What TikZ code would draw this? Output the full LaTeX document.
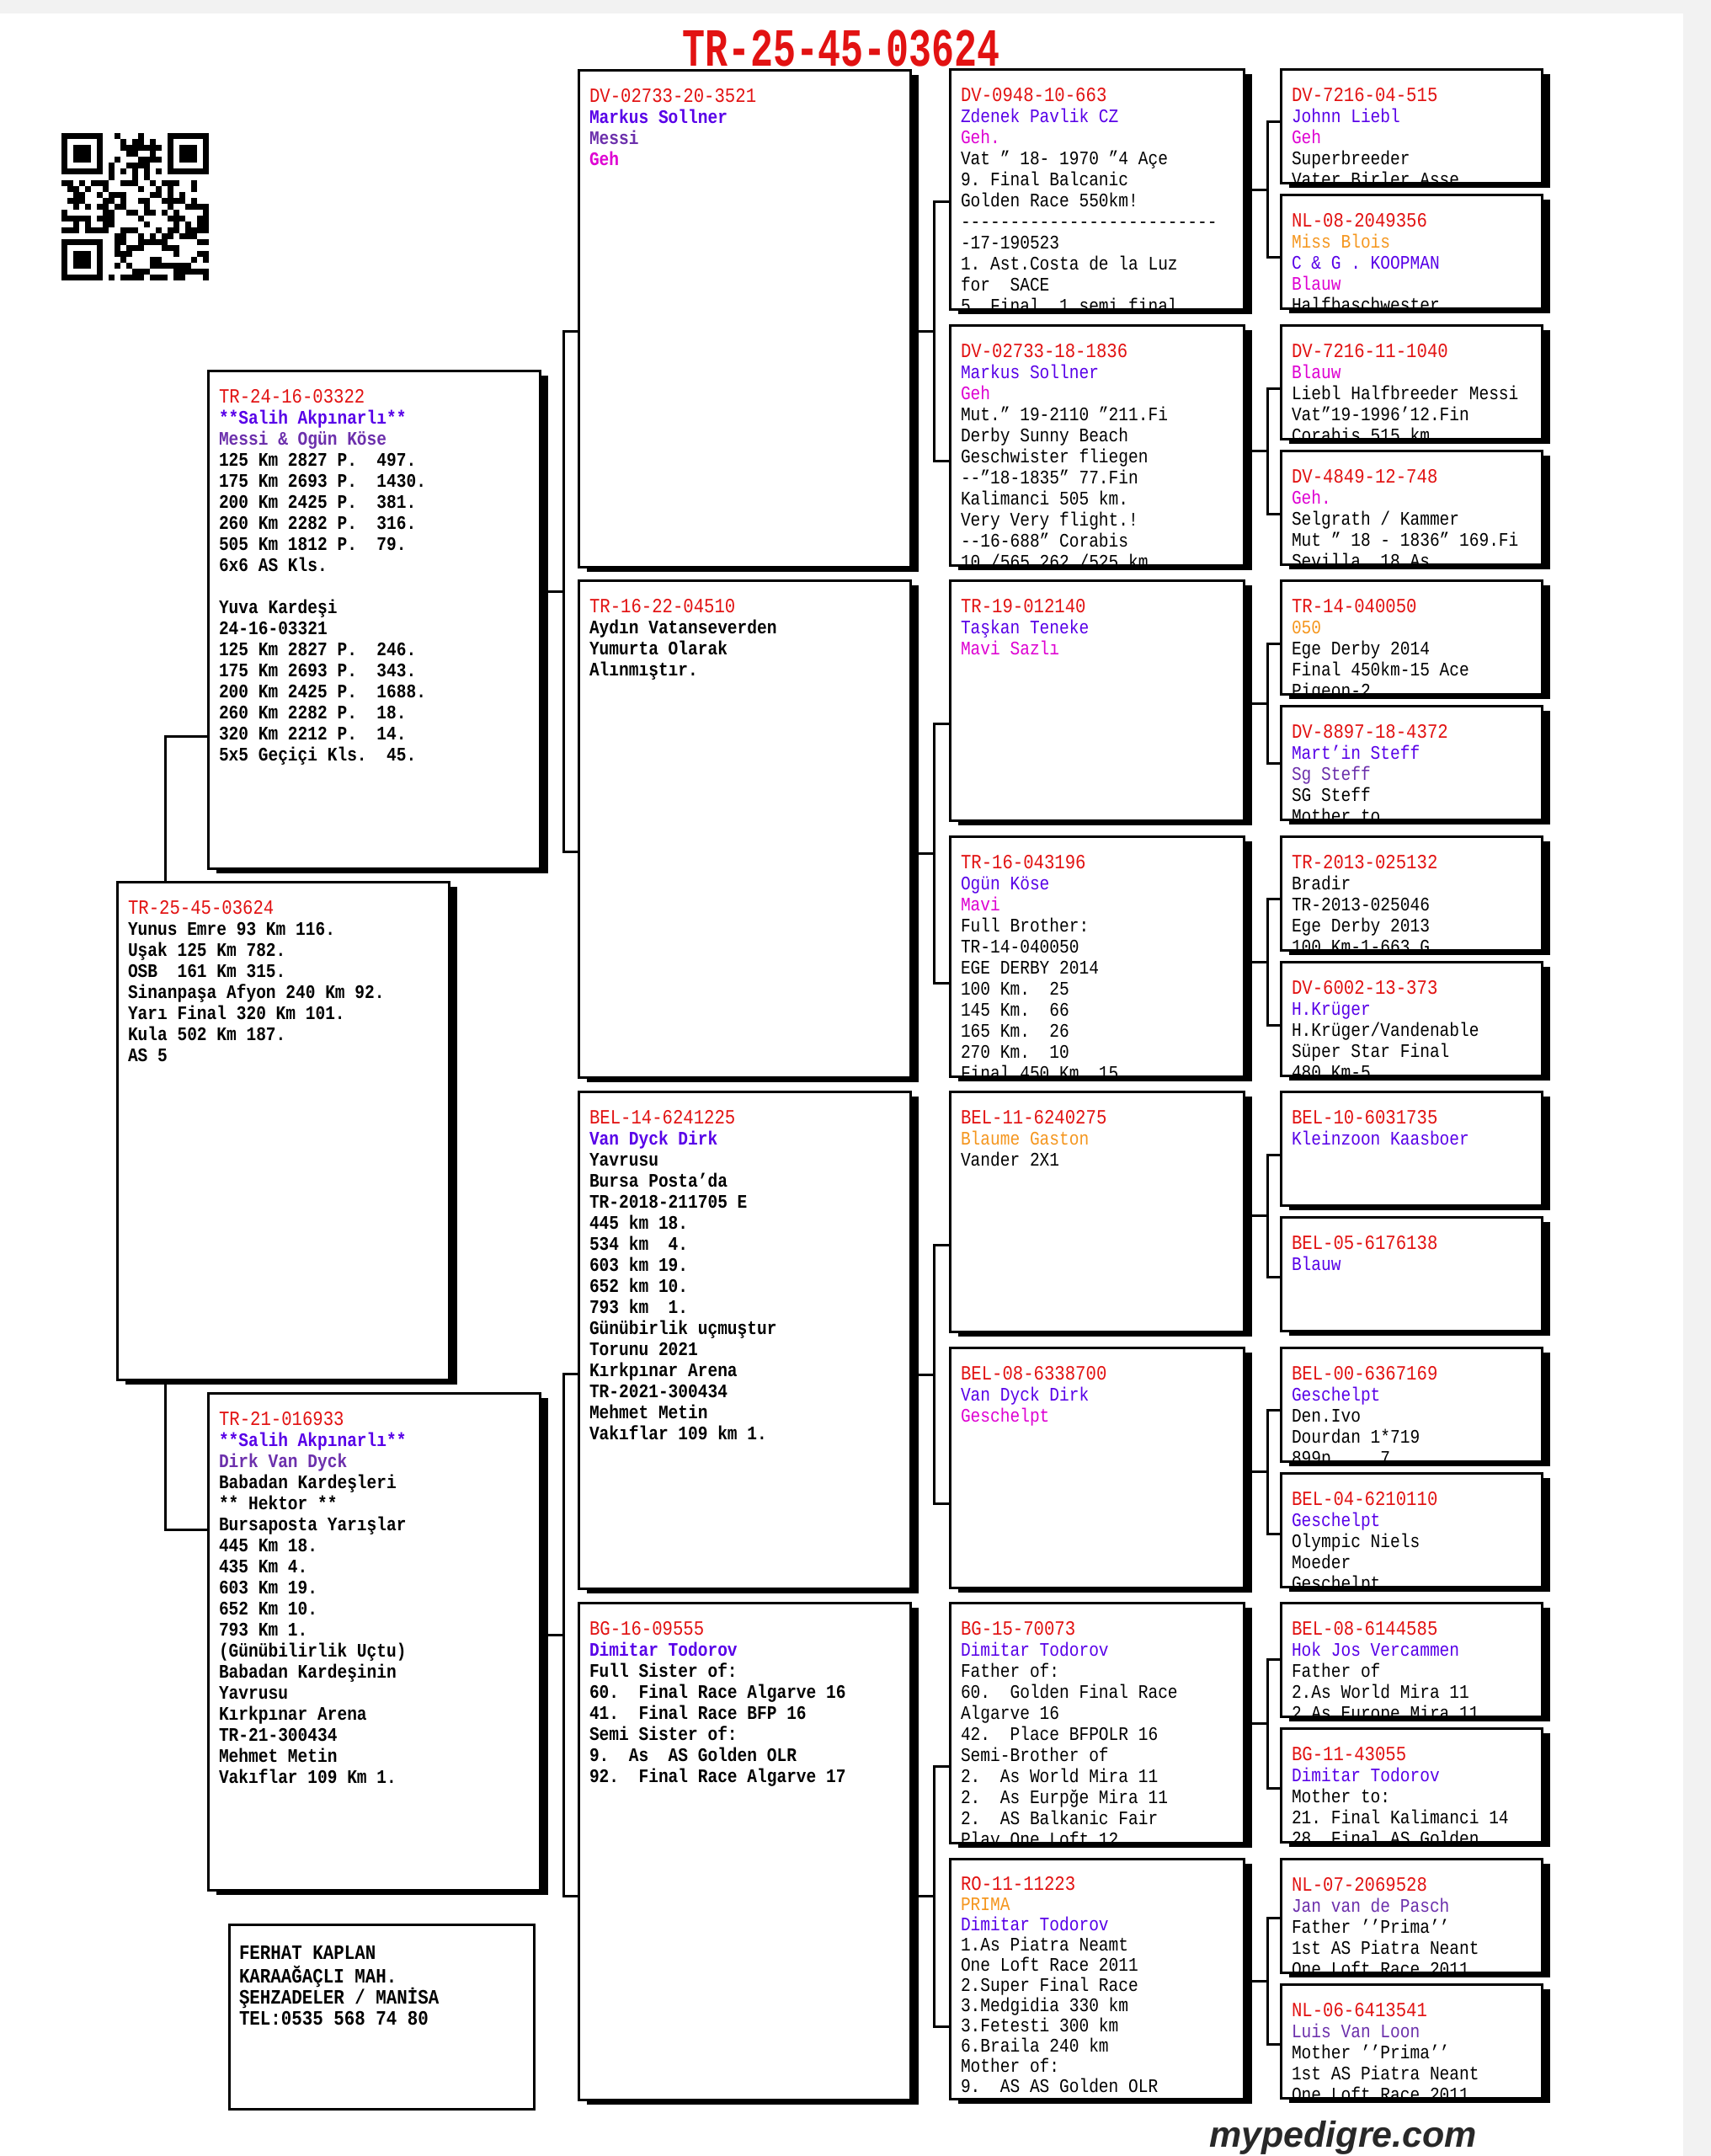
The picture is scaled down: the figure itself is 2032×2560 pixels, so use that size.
\documentclass[tikz,border=0pt]{standalone}
\usepackage{fontspec}
\usepackage{graphicx}
\setmonofont{Liberation Mono}[FakeStretch=0.86]
\newfontfamily\wmfont{Liberation Sans}
\usetikzlibrary{shadows}
\definecolor{idred}{RGB}{226,18,18}
\definecolor{nblue}{RGB}{88,0,232}
\definecolor{npurp}{RGB}{108,48,172}
\definecolor{nmag}{RGB}{222,0,210}
\definecolor{norng}{RGB}{245,150,30}
\definecolor{bggray}{RGB}{242,242,242}
\definecolor{wmc}{RGB}{40,40,40}
\newcommand\bodyB{\ttfamily\bfseries\fontsize{22.7pt}{25pt}\selectfont\frenchspacing}
\newcommand\bodyR{\ttfamily\mdseries\fontsize{22.7pt}{25pt}\selectfont\frenchspacing}
\newcommand\bodyRs{\ttfamily\mdseries\fontsize{22.7pt}{24pt}\selectfont\frenchspacing}
\newcommand\addrf{\ttfamily\bfseries\fontsize{24.2pt}{25pt}\selectfont\frenchspacing}
\newcommand\pid[1]{{\color{idred}\mdseries\fontsize{24pt}{25pt}\selectfont #1}}
\newcommand\pbl[1]{\textcolor{nblue}{#1}}
\newcommand\ppu[1]{\textcolor{npurp}{#1}}
\newcommand\pmg[1]{\textcolor{nmag}{#1}}
\newcommand\por[1]{\textcolor{norng}{#1}}
\newcommand\pdash{-{}-{}-{}-{}-{}-{}-{}-{}-{}-{}-{}-{}-{}-{}-{}-{}-{}-{}-{}-{}-{}-{}-{}-{}-{}-{}}
\tikzset{
  pedbox/.style={draw, line width=3pt, fill=white, anchor=north west, outer sep=0pt, inner sep=0pt,
    drop shadow={shadow xshift=10pt, shadow yshift=-6pt, fill=black, opacity=1}},
  ptxt/.style={anchor=north west, inner sep=0pt, outer sep=0pt, align=left},
  conn/.style={line width=3pt, line join=miter}
}
\newcommand\pedbox[7]{%
  \node[pedbox, minimum width=#4pt, minimum height=#5pt] (#1) at (#2,#3) {};
  \begin{scope}
    \clip ([shift={(1.5pt,-1.5pt)}]#1.north west) rectangle ([shift={(-1.5pt,1.5pt)}]#1.south east);
    \node[ptxt, font=#6] (#1-t) at ([shift={(13pt,-20.5pt)}]#1.north west) {\strut#7};
  \end{scope}}
\newcommand\pedbrk[7]{%
  \draw[conn] (#1.east |- 0,#2) -- (#3 |- 0,#2);
  \draw[conn] (#4.west |- 0,#5) -- (#3 |- 0,#5) -- (#3 |- 0,#7) -- (#6.west |- 0,#7);}
\begin{document}
\begin{tikzpicture}[x=1pt,y=-1pt]
\useasboundingbox (0,0) rectangle (2032,2560);
\fill[bggray] (0,0) rectangle (2032,2560);
\fill[white] (0,16) rectangle (1999,2560);

% QR code
\foreach \fx/\fy in {0/0,18/0,0/18}{
  \fill (73+7*\fx,158+7*\fy) rectangle ++(49,49);
  \fill[white] (80+7*\fx,165+7*\fy) rectangle ++(35,35);
  \fill (87+7*\fx,172+7*\fy) rectangle ++(21,21);
}
\pgfmathsetseed{4711}
\foreach \i in {0,...,24}{\foreach \j in {0,...,24}{%
  \pgfmathsetmacro\rr{rnd}%
  \pgfmathtruncatemacro\fz{or(and(\i<8,\j<8),or(and(\i>16,\j<8),and(\i<8,\j>16)))}%
  \pgfmathtruncatemacro\tm{and(or(\i==6,\j==6),or(\i>7,\j>7))}%
  \pgfmathtruncatemacro\rv{ifthenelse(\tm==1,mod(\i+\j+1,2),\rr<0.52)}%
  \ifnum\fz=0 \ifnum\rv=1 \fill (73+7*\i,158+7*\j) rectangle ++(7,7);\fi\fi
}}

% title
\node[anchor=base, text=idred, inner sep=0pt, font=\ttfamily\bfseries\fontsize{52.3pt}{52pt}\selectfont] (title) at (999,78) {\scalebox{1}[1.22]{TR-25-45-03624}};

% generation 1
\pedbox{s}{139}{1047}{394}{591}{\bodyB}{\pid{TR-25-45-03624}\\Yunus Emre 93 Km 116.\\Uşak 125 Km 782.\\OSB~ 161 Km 315.\\Sinanpaşa Afyon 240 Km 92.\\Yarı Final 320 Km 101.\\Kula 502 Km 187.\\AS 5}

% generation 2
\pedbox{f}{247}{440}{394}{591}{\bodyB}{\pid{TR-24-16-03322}\\\pbl{**Salih Akpınarlı**}\\\ppu{Messi \& Ogün Köse}\\125 Km 2827 P.~ 497.\\175 Km 2693 P.~ 1430.\\200 Km 2425 P.~ 381.\\260 Km 2282 P.~ 316.\\505 Km 1812 P.~ 79.\\6x6 AS Kls.\\\strut\\Yuva Kardeşi\\24-16-03321\\125 Km 2827 P.~ 246.\\175 Km 2693 P.~ 343.\\200 Km 2425 P.~ 1688.\\260 Km 2282 P.~ 18.\\320 Km 2212 P.~ 14.\\5x5 Geçiçi Kls.~ 45.}
\pedbox{m}{247}{1654}{394}{590}{\bodyB}{\pid{TR-21-016933}\\\pbl{**Salih Akpınarlı**}\\\ppu{Dirk Van Dyck}\\Babadan Kardeşleri\\** Hektor **\\Bursaposta Yarışlar\\445 Km 18.\\435 Km 4.\\603 Km 19.\\652 Km 10.\\793 Km 1.\\(Günübilirlik Uçtu)\\Babadan Kardeşinin\\Yavrusu\\Kırkpınar Arena\\TR-21-300434\\Mehmet Metin\\Vakıflar 109 Km 1.}

% address
\node[draw, line width=3pt, anchor=north west, minimum width=362pt, minimum height=219pt, inner sep=0pt, outer sep=0pt] (addr) at (272,2285) {};
\node[ptxt, font=\addrf] (addr-t) at ([shift={(12pt,-23.5pt)}]addr.north west) {\strut FERHAT KAPLAN\\KARAAĞAÇLI MAH.\\ŞEHZADELER / MANİSA\\TEL:0535 568 74 80};

% generation 3
\pedbox{c3a}{687}{83}{394}{590}{\bodyB}{\pid{DV-02733-20-3521}\\\pbl{Markus Sollner}\\\ppu{Messi}\\\pmg{Geh}}
\pedbox{c3b}{687}{689}{394}{590}{\bodyB}{\pid{TR-16-22-04510}\\Aydın Vatanseverden\\Yumurta Olarak\\Alınmıştır.}
\pedbox{c3c}{687}{1296}{394}{590}{\bodyB}{\pid{BEL-14-6241225}\\\pbl{Van Dyck Dirk}\\Yavrusu\\Bursa Posta’da\\TR-2018-211705 E\\445 km 18.\\534 km~ 4.\\603 km 19.\\652 km 10.\\793 km~ 1.\\Günübirlik uçmuştur\\Torunu 2021\\Kırkpınar Arena\\TR-2021-300434\\Mehmet Metin\\Vakıflar 109 km 1.}
\pedbox{c3d}{687}{1903}{394}{590}{\bodyB}{\pid{BG-16-09555}\\\pbl{Dimitar Todorov}\\Full Sister of:\\60.~ Final Race Algarve 16\\41.~ Final Race BFP 16\\Semi Sister of:\\9.~ As~ AS Golden OLR\\92.~ Final Race Algarve 17}

% generation 4
\pedbox{c4a}{1128}{82}{349}{285}{\bodyR}{\pid{DV-0948-10-663}\\\pbl{Zdenek Pavlik CZ}\\\pmg{Geh.}\\Vat ” 18- 1970 ”4 Açe\\9. Final Balcanic\\Golden Race 550km!\\\pdash\\-17-190523\\1. Ast.Costa de la Luz\\for~ SACE\\5. Final .1 semi final}
\pedbox{c4b}{1128}{386}{349}{285}{\bodyR}{\pid{DV-02733-18-1836}\\\pbl{Markus Sollner}\\\pmg{Geh}\\Mut.” 19-2110 ”211.Fi\\Derby Sunny Beach\\Geschwister fliegen\\-{}-”18-1835” 77.Fin\\Kalimanci 505 km.\\Very Very flight.!\\-{}-16-688” Corabis\\10 /565 262 /525 km}
\pedbox{c4c}{1128}{689}{349}{285}{\bodyR}{\pid{TR-19-012140}\\\pbl{Taşkan Teneke}\\\pmg{Mavi Sazlı}}
\pedbox{c4d}{1128}{993}{349}{285}{\bodyR}{\pid{TR-16-043196}\\\pbl{Ogün Köse}\\\pmg{Mavi}\\Full Brother:\\TR-14-040050\\EGE DERBY 2014\\100 Km.~ 25\\145 Km.~ 66\\165 Km.~ 26\\270 Km.~ 10\\Final 450 Km~ 15}
\pedbox{c4e}{1128}{1296}{349}{285}{\bodyR}{\pid{BEL-11-6240275}\\\por{Blaume Gaston}\\Vander 2X1}
\pedbox{c4f}{1128}{1600}{349}{285}{\bodyR}{\pid{BEL-08-6338700}\\\pbl{Van Dyck Dirk}\\\pmg{Geschelpt}}
\pedbox{c4g}{1128}{1903}{349}{285}{\bodyR}{\pid{BG-15-70073}\\\pbl{Dimitar Todorov}\\Father of:\\60.~ Golden Final Race\\Algarve 16\\42.~ Place BFPOLR 16\\Semi-Brother of\\2.~ As World Mira 11\\2.~ As Eurpğe Mira 11\\2.~ AS Balkanic Fair\\Play One Loft 12}
\pedbox{c4h}{1128}{2207}{349}{285}{\bodyRs}{\pid{RO-11-11223}\\\por{PRIMA}\\\pbl{Dimitar Todorov}\\1.As Piatra Neamt\\One Loft Race 2011\\2.Super Final Race\\3.Medgidia 330 km\\3.Fetesti 300 km\\6.Braila 240 km\\Mother of:\\9.~ AS AS Golden OLR}

% generation 5
\pedbox{c5a}{1521}{82}{310}{135}{\bodyR}{\pid{DV-7216-04-515}\\\pbl{Johnn Liebl}\\\pmg{Geh}\\Superbreeder\\Vater Birler Asse}
\pedbox{c5b}{1521}{231}{310}{135}{\bodyR}{\pid{NL-08-2049356}\\\por{Miss Blois}\\\pbl{C \& G . KOOPMAN}\\\pmg{Blauw}\\Halfbaschwester}
\pedbox{c5c}{1521}{386}{310}{135}{\bodyR}{\pid{DV-7216-11-1040}\\\pmg{Blauw}\\Liebl Halfbreeder Messi\\Vat”19-1996’12.Fin\\Corabis 515 km}
\pedbox{c5d}{1521}{535}{310}{135}{\bodyR}{\pid{DV-4849-12-748}\\\pmg{Geh.}\\Selgrath / Kammer\\Mut ” 18 - 1836” 169.Fi\\Sevilla .18 As}
\pedbox{c5e}{1521}{689}{310}{135}{\bodyR}{\pid{TR-14-040050}\\\por{050}\\Ege Derby 2014\\Final 450km-15 Ace\\Pigeon-2}
\pedbox{c5f}{1521}{838}{310}{135}{\bodyR}{\pid{DV-8897-18-4372}\\\pbl{Mart’in Steff}\\\ppu{Sg Steff}\\SG Steff\\Mother to}
\pedbox{c5g}{1521}{993}{310}{135}{\bodyR}{\pid{TR-2013-025132}\\Bradir\\TR-2013-025046\\Ege Derby 2013\\100 Km-1-663 G}
\pedbox{c5h}{1521}{1142}{310}{135}{\bodyR}{\pid{DV-6002-13-373}\\\pbl{H.Krüger}\\H.Krüger/Vandenable\\Süper Star Final\\480 Km-5}
\pedbox{c5i}{1521}{1296}{310}{135}{\bodyR}{\pid{BEL-10-6031735}\\\pbl{Kleinzoon Kaasboer}}
\pedbox{c5j}{1521}{1445}{310}{135}{\bodyR}{\pid{BEL-05-6176138}\\\pbl{Blauw}}
\pedbox{c5k}{1521}{1600}{310}{135}{\bodyR}{\pid{BEL-00-6367169}\\\pbl{Geschelpt}\\Den.Ivo\\Dourdan 1*719\\899p~~~~ 7}
\pedbox{c5l}{1521}{1749}{310}{135}{\bodyR}{\pid{BEL-04-6210110}\\\pbl{Geschelpt}\\Olympic Niels\\Moeder\\Geschelpt}
\pedbox{c5m}{1521}{1903}{310}{135}{\bodyR}{\pid{BEL-08-6144585}\\\pbl{Hok Jos Vercammen}\\Father of\\2.As World Mira 11\\2.As Europe Mira 11}
\pedbox{c5n}{1521}{2052}{310}{135}{\bodyR}{\pid{BG-11-43055}\\\pbl{Dimitar Todorov}\\Mother to:\\21. Final Kalimanci 14\\28. Final AS Golden}
\pedbox{c5o}{1521}{2207}{310}{135}{\bodyR}{\pid{NL-07-2069528}\\\ppu{Jan van de Pasch}\\Father ’’Prima’’\\1st AS Piatra Neant\\One Loft Race 2011}
\pedbox{c5p}{1521}{2356}{310}{135}{\bodyR}{\pid{NL-06-6413541}\\\ppu{Luis Van Loon}\\Mother ’’Prima’’\\1st AS Piatra Neant\\One Loft Race 2011}

% connectors
\draw[conn] ([xshift=57pt]s.north west) |- (f.west |- 0,874);
\draw[conn] ([xshift=57pt]s.south west) |- (m.west |- 0,1816);
\coordinate (sp3) at ([xshift=-18pt]c3a.west);
\coordinate (sp4) at ([xshift=-19pt]c4a.west);
\coordinate (sp5) at ([xshift=-16pt]c5a.west);
\pedbrk{f}{702}{sp3}{c3a}{393}{c3b}{1011}
\pedbrk{m}{1941}{sp3}{c3c}{1631}{c3d}{2251}
\pedbrk{c3a}{393}{sp4}{c4a}{239}{c4b}{547}
\pedbrk{c3b}{1013}{sp4}{c4c}{859}{c4d}{1167}
\pedbrk{c3c}{1632}{sp4}{c4e}{1478}{c4f}{1785}
\pedbrk{c3d}{2251}{sp4}{c4g}{2097}{c4h}{2406}
\pedbrk{c4a}{225}{sp5}{c5a}{144}{c5b}{305}
\pedbrk{c4b}{535}{sp5}{c5c}{461}{c5d}{610}
\pedbrk{c4c}{835}{sp5}{c5e}{764}{c5f}{906}
\pedbrk{c4d}{1142}{sp5}{c5g}{1067}{c5h}{1217}
\pedbrk{c4e}{1443}{sp5}{c5i}{1371}{c5j}{1516}
\pedbrk{c4f}{1747}{sp5}{c5k}{1674}{c5l}{1821}
\pedbrk{c4g}{2046}{sp5}{c5m}{1970}{c5n}{2123}
\pedbrk{c4h}{2352}{sp5}{c5o}{2277}{c5p}{2427}

% watermark
\node[anchor=base west, inner sep=0pt, text=wmc, font=\wmfont\bfseries\itshape\fontsize{43pt}{43pt}\selectfont] (wmk) at (1436,2549) {mypedigre.com};
\end{tikzpicture}
\end{document}
